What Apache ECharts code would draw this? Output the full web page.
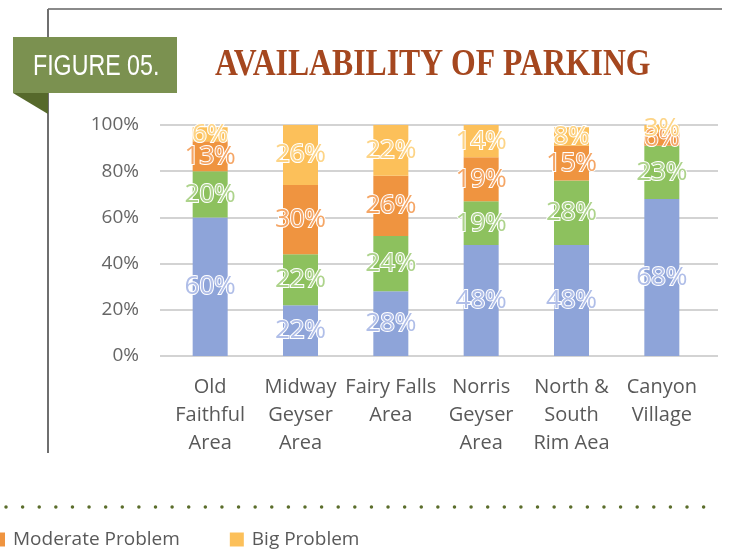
<!DOCTYPE html>
<html><head><meta charset="utf-8">
<script src="https://cdn.jsdelivr.net/npm/echarts@6/dist/echarts.min.js"></script>
<style>html,body{margin:0;padding:0;background:#fff;}#c{width:729px;height:552px;}</style>
</head><body><div id="c"></div>
<script>
const categories = ['Old\nFaithful\nArea', 'Midway\nGeyser\nArea', 'Fairy Falls\nArea', 'Norris\nGeyser\nArea', 'North &\nSouth\nRim Aea', 'Canyon\nVillage'];
const noProblem = [60, 22, 28, 48, 48, 68];
const smallProblem = [20, 22, 24, 19, 28, 23];
const moderateProblem = [13, 30, 26, 19, 15, 6];
const bigProblem = [6, 26, 22, 14, 8, 3];
const seriesNames = ['No Problem', 'Small Problem', 'Moderate Problem', 'Big Problem'];
const yTicks = [0, 20, 40, 60, 80, 100];

const colors = ['#8ea4d9', '#8dc15e', '#ef9440', '#fcc05a'];
const labelColors = ['#b0bee8', '#add38b', '#f5a666', '#fdd486'];
const font = 'Open Sans';

const chart = echarts.init(document.getElementById('c'));
const values = [noProblem, smallProblem, moderateProblem, bigProblem];

const series = values.map((v, i) => ({
  name: seriesNames[i],
  type: 'bar',
  stack: 'total',
  xAxisIndex: 1,
  yAxisIndex: 1,
  barWidth: 35,
  data: v,
  itemStyle: { color: colors[i] },
  label: {
    show: true,
    position: 'inside',
    formatter: '{c}%',
    fontFamily: font,
    fontSize: 26,
    color: labelColors[i],
    textBorderColor: '#ffffff',
    textBorderWidth: 2
  },
  emphasis: { disabled: true }
}));

chart.setOption({
  backgroundColor: '#ffffff',
  animation: false,
  grid: [
    { left: 160, right: 11, top: 125, height: 231 },
    { left: 165, right: 22, top: 125, height: 231 }
  ],
  xAxis: [
    { type: 'value', gridIndex: 0, show: false },
    {
      type: 'category', gridIndex: 1, data: categories,
      axisLine: { show: false }, axisTick: { show: false },
      axisLabel: { margin: 17, fontFamily: font, fontSize: 20, lineHeight: 28, color: '#595959', interval: 0 }
    }
  ],
  yAxis: [
    {
      type: 'value', gridIndex: 0, min: yTicks[0], max: yTicks[yTicks.length - 1], interval: 20,
      axisLine: { show: false }, axisTick: { show: false },
      axisLabel: { margin: 21, fontFamily: font, fontSize: 19, color: '#666666', formatter: '{value}%' },
      splitLine: { lineStyle: { color: '#c4c4c4', width: 1.5 } }
    },
    { type: 'value', gridIndex: 1, min: 0, max: 100, show: false }
  ],
  legend: {
    data: ['Moderate Problem', 'Big Problem'],
    left: -14, top: 525, itemWidth: 14, itemHeight: 14, itemGap: 50,
    icon: 'rect',
    textStyle: { fontFamily: font, fontSize: 19, color: '#595959', padding: [0, 0, 0, 3] }
  },
  graphic: [
    { type: 'line', shape: { x1: 48, y1: 9, x2: 722, y2: 9 }, style: { stroke: '#8a8a8a', lineWidth: 2 } },
    { type: 'line', shape: { x1: 48, y1: 9, x2: 48, y2: 453 }, style: { stroke: '#6f6f6f', lineWidth: 2 } },
    { type: 'rect', shape: { x: 13, y: 37, width: 164, height: 56 }, style: { fill: '#7b9150' } },
    { type: 'polygon', shape: { points: [[13, 93], [48, 93], [48, 114]] }, style: { fill: '#56692b' } },
    { type: 'text', x: 33, y: 67, scaleX: 0.8, style: { x: 0, y: 0, text: 'FIGURE 05.', font: '29px "Liberation Sans"', fill: '#ffffff', textVerticalAlign: 'middle' } },
    { type: 'text', x: 215, y: 65, scaleX: 0.835, style: { x: 0, y: 0, text: 'AVAILABILITY OF PARKING', font: 'bold 38px "Liberation Serif"', fill: '#a5471f', textVerticalAlign: 'middle' } },
    { type: 'line', shape: { x1: 6, y1: 507, x2: 716, y2: 507 }, style: { stroke: '#5b6d2b', lineWidth: 3.5, lineCap: 'round', lineDash: [0.01, 16.6] } }
  ],
  series: series
});
</script></body></html>
